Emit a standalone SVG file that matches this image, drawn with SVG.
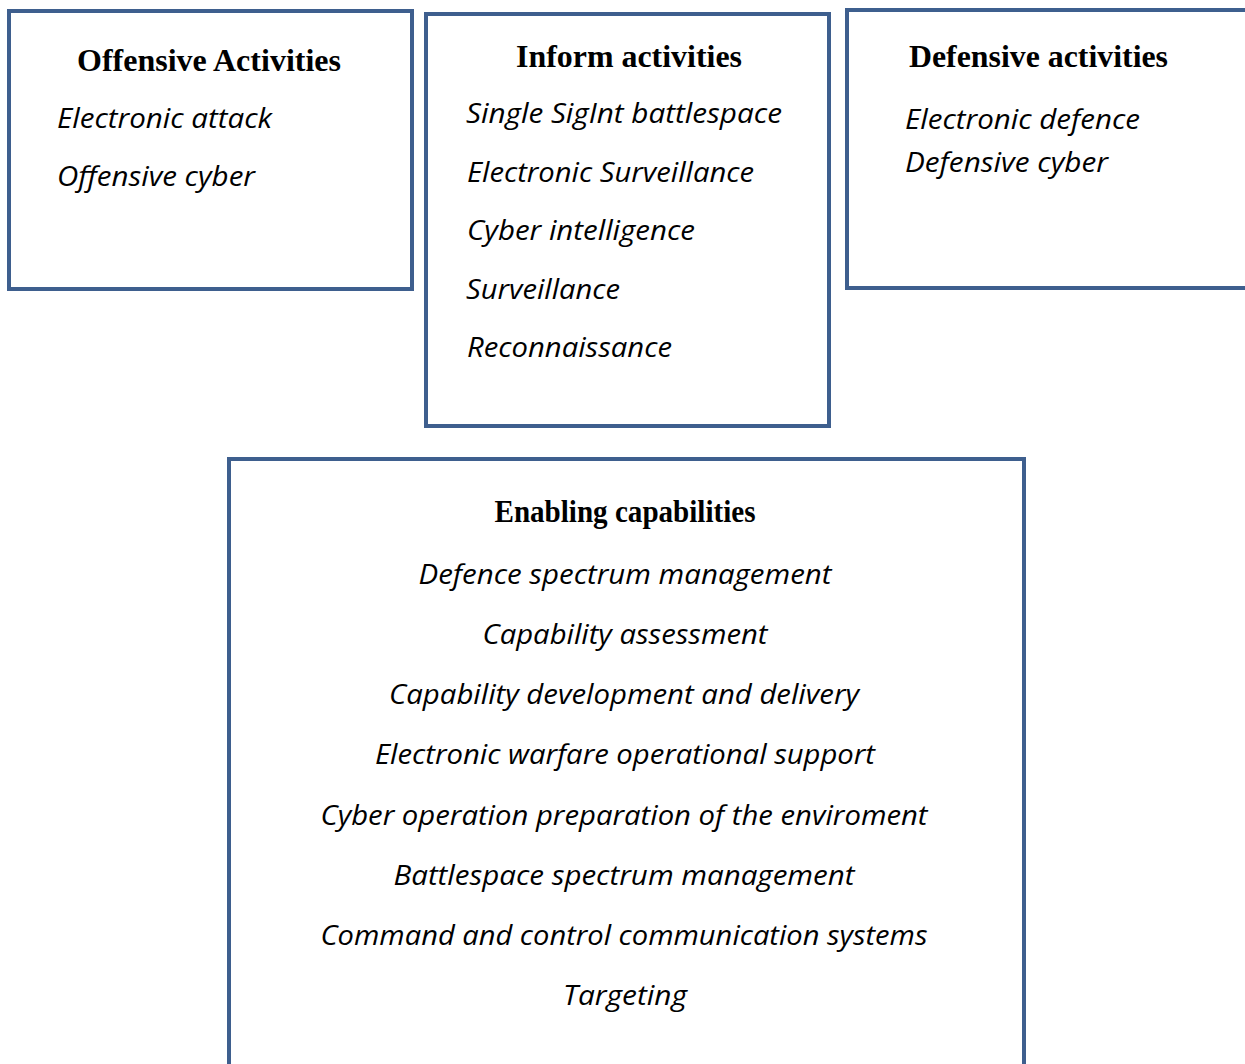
<svg xmlns="http://www.w3.org/2000/svg" width="1245" height="1064" viewBox="0 0 1245 1064">
<style>
.box{fill:#ffffff;stroke:#3e5f8e;stroke-width:4}
.t{font-family:"Liberation Serif","Times New Roman",serif;font-weight:bold;font-size:31px;fill:#000}
.i{font-family:"Open Sans","Liberation Sans",sans-serif;font-style:italic;font-size:27.5px;fill:#000}
.c{text-anchor:middle}
</style>
<rect width="1245" height="1064" fill="#ffffff"/>
<g id="offensive">
<rect class="box" x="9" y="11" width="403" height="278"/>
<text class="t" x="77" y="71" textLength="264" lengthAdjust="spacingAndGlyphs">Offensive Activities</text>
<text class="i" x="57" y="128" textLength="215" lengthAdjust="spacingAndGlyphs">Electronic attack</text>
<text class="i" x="57" y="186" textLength="198" lengthAdjust="spacingAndGlyphs">Offensive cyber</text>
</g>
<g id="inform">
<rect class="box" x="426" y="14" width="403" height="412"/>
<text class="t" x="516" y="67" textLength="226" lengthAdjust="spacingAndGlyphs">Inform activities</text>
<text class="i" x="466" y="123" textLength="316" lengthAdjust="spacingAndGlyphs">Single SigInt battlespace</text>
<text class="i" x="467" y="182" textLength="287" lengthAdjust="spacingAndGlyphs">Electronic Surveillance</text>
<text class="i" x="467" y="240" textLength="228" lengthAdjust="spacingAndGlyphs">Cyber intelligence</text>
<text class="i" x="466" y="299" textLength="154" lengthAdjust="spacingAndGlyphs">Surveillance</text>
<text class="i" x="467" y="357" textLength="205" lengthAdjust="spacingAndGlyphs">Reconnaissance</text>
</g>
<g id="defensive">
<rect class="box" x="847" y="10" width="420" height="278"/>
<text class="t" x="909" y="67" textLength="259" lengthAdjust="spacingAndGlyphs">Defensive activities</text>
<text class="i" x="905" y="129" textLength="235" lengthAdjust="spacingAndGlyphs">Electronic defence</text>
<text class="i" x="905" y="172" textLength="203" lengthAdjust="spacingAndGlyphs">Defensive cyber</text>
</g>
<g id="enabling">
<rect class="box" x="229" y="459" width="795" height="640"/>
<text class="t c" x="625" y="522" textLength="261" lengthAdjust="spacingAndGlyphs" font-size="29">Enabling capabilities</text>
<text class="i c" x="625" y="584" textLength="413" lengthAdjust="spacingAndGlyphs">Defence spectrum management</text>
<text class="i c" x="625" y="644" textLength="285" lengthAdjust="spacingAndGlyphs">Capability assessment</text>
<text class="i c" x="624" y="704" textLength="470" lengthAdjust="spacingAndGlyphs">Capability development and delivery</text>
<text class="i c" x="625" y="764" textLength="500" lengthAdjust="spacingAndGlyphs">Electronic warfare operational support</text>
<text class="i c" x="624" y="825" textLength="607" lengthAdjust="spacingAndGlyphs">Cyber operation preparation of the enviroment</text>
<text class="i c" x="624" y="885" textLength="461" lengthAdjust="spacingAndGlyphs">Battlespace spectrum management</text>
<text class="i c" x="624" y="945" textLength="607" lengthAdjust="spacingAndGlyphs">Command and control communication systems</text>
<text class="i c" x="625" y="1005" textLength="124" lengthAdjust="spacingAndGlyphs">Targeting</text>
</g>
<g id="connectors"></g>
</svg>
